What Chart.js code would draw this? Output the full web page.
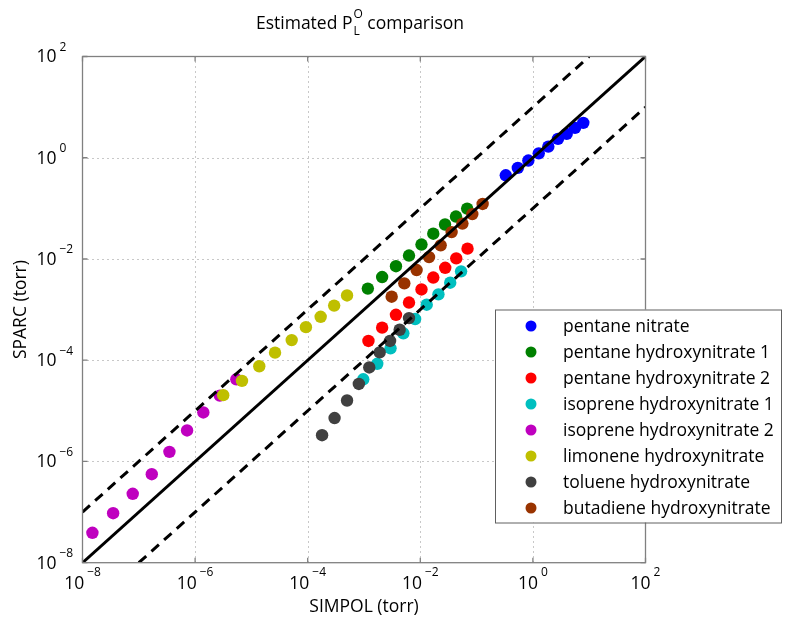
<!DOCTYPE html>
<html>
<head>
<meta charset="utf-8">
<script src="https://cdn.jsdelivr.net/npm/chart.js@4.4.1/dist/chart.umd.min.js"></script>
<style>
  html, body { margin: 0; padding: 0; background: #fff; }
  #wrap { width: 785px; height: 621px; }
</style>
</head>
<body>
<div id="wrap"><canvas id="plChart" width="785" height="621"></canvas></div>
<script>
// SIMPOL (x) vs SPARC (y) estimates, torr
const seriesNames = [
  "pentane nitrate",
  "pentane hydroxynitrate 1",
  "pentane hydroxynitrate 2",
  "isoprene hydroxynitrate 1",
  "isoprene hydroxynitrate 2",
  "limonene hydroxynitrate",
  "toluene hydroxynitrate",
  "butadiene hydroxynitrate",
];
const seriesColors = ["#0000ff", "#008000", "#ff0000", "#00bfbf", "#bf00bf", "#bfbf00", "#404040", "#993300"];

const pentaneNitrateX = [0.33, 0.54, 0.83, 1.27, 1.88, 2.79, 3.98, 5.6, 7.85];
const pentaneNitrateY = [0.45, 0.63, 0.88, 1.22, 1.66, 2.36, 2.96, 3.89, 4.89];

const pentaneHN1X = [1.17e-3, 2.1e-3, 3.7e-3, 6.3e-3, 1.05e-2, 1.7e-2, 2.75e-2, 4.3e-2, 6.8e-2];
const pentaneHN1Y = [2.6e-3, 4.4e-3, 7.2e-3, 1.17e-2, 1.93e-2, 3.16e-2, 4.8e-2, 6.9e-2, 9.9e-2];

const pentaneHN2X = [1.2e-3, 2.1e-3, 3.7e-3, 6.3e-3, 1.05e-2, 1.7e-2, 2.77e-2, 4.35e-2, 6.9e-2];
const pentaneHN2Y = [2.4e-4, 4.4e-4, 7.9e-4, 1.38e-3, 2.5e-3, 4.3e-3, 6.7e-3, 1.03e-2, 1.6e-2];

const isopreneHN1X = [9.7e-4, 1.72e-3, 2.96e-3, 5.0e-3, 8.1e-3, 1.3e-2, 2.1e-2, 3.4e-2, 5.3e-2];
const isopreneHN1Y = [4.2e-5, 8.5e-5, 1.72e-4, 3.4e-4, 6.5e-4, 1.25e-3, 2.0e-3, 3.4e-3, 5.7e-3];

const isopreneHN2X = [1.5e-8, 3.5e-8, 7.8e-8, 1.7e-7, 3.5e-7, 7.2e-7, 1.4e-6, 2.75e-6, 5.4e-6];
const isopreneHN2Y = [3.9e-8, 9.5e-8, 2.3e-7, 5.6e-7, 1.55e-6, 4.1e-6, 9.3e-6, 2.0e-5, 4.2e-5];

const limoneneHNX = [3.16e-6, 6.8e-6, 1.38e-5, 2.63e-5, 5.2e-5, 9.3e-5, 1.7e-4, 2.95e-4, 5.0e-4];
const limoneneHNY = [2.04e-5, 3.9e-5, 7.6e-5, 1.41e-4, 2.5e-4, 4.5e-4, 7.2e-4, 1.2e-3, 1.9e-3];

const tolueneHNX = [1.8e-4, 3.0e-4, 5.0e-4, 8.1e-4, 1.24e-3, 1.9e-3, 2.9e-3, 4.3e-3, 6.3e-3];
const tolueneHNY = [3.3e-6, 7.2e-6, 1.6e-5, 3.4e-5, 7.2e-5, 1.43e-4, 2.4e-4, 4.0e-4, 6.8e-4];

const butadieneHNX = [3.1e-3, 5.2e-3, 8.6e-3, 1.43e-2, 2.3e-2, 3.6e-2, 5.6e-2, 8.4e-2, 0.128];
const butadieneHNY = [1.8e-3, 3.3e-3, 6.05e-3, 1.09e-2, 1.86e-2, 3.4e-2, 5.0e-2, 7.7e-2, 0.122];

// 1:1 line and factor-of-10 lines
const oneToOneX = [1e-8, 1e2];
const oneToOneY = [1e-8, 1e2];
const upperX = [1e-8, 1e1];
const upperY = [1e-7, 1e2];
const lowerX = [1e-7, 1e2];
const lowerY = [1e-8, 1e1];

const tickExponents = [-8, -6, -4, -2, 0, 2];

const allX = [pentaneNitrateX, pentaneHN1X, pentaneHN2X, isopreneHN1X, isopreneHN2X, limoneneHNX, tolueneHNX, butadieneHNX];
const allY = [pentaneNitrateY, pentaneHN1Y, pentaneHN2Y, isopreneHN1Y, isopreneHN2Y, limoneneHNY, tolueneHNY, butadieneHNY];

function toPoints(xs, ys) {
  return xs.map((x, i) => ({ x: x, y: ys[i] }));
}

const datasets = [];
seriesNames.forEach((name, i) => {
  datasets.push({
    type: "scatter",
    label: name,
    data: toPoints(allX[i], allY[i]),
    backgroundColor: seriesColors[i],
    borderWidth: 0,
    pointRadius: 6.2,
    pointHoverRadius: 6.2,
    order: 20 - i, // later series on top, like matlab
  });
});
function refLine(xs, ys, dash) {
  return {
    type: "line",
    label: "_ref",
    data: toPoints(xs, ys),
    borderColor: "#000",
    borderWidth: 3,
    borderDash: dash,
    pointRadius: 0,
    fill: false,
    order: 0,
  };
}
datasets.push(refLine(oneToOneX, oneToOneY, []));
datasets.push(refLine(upperX, upperY, [10, 7]));
datasets.push(refLine(lowerX, lowerY, [10, 7]));

const FONT = "'Open Sans', 'Noto Sans', sans-serif";
const TXT = "17.5px " + FONT;
const SMALL = "12px " + FONT;

// draw 10^n labels, grid, box and legend by hand (matlab look)
const matlabAxes = {
  id: "matlabAxes",
  beforeDatasetsDraw(chart) {
    const { ctx, chartArea: a, scales } = chart;
    ctx.save();
    ctx.strokeStyle = "#909090";
    ctx.lineWidth = 1;
    ctx.setLineDash([1, 4]);
    tickExponents.forEach((e) => {
      const v = Math.pow(10, e);
      const px = Math.round(scales.x.getPixelForValue(v)) + 0.5;
      const py = Math.round(scales.y.getPixelForValue(v)) + 0.5;
      if (e > -8 && e < 2) {
        ctx.beginPath(); ctx.moveTo(px, a.top); ctx.lineTo(px, a.bottom); ctx.stroke();
        ctx.beginPath(); ctx.moveTo(a.left, py); ctx.lineTo(a.right, py); ctx.stroke();
      }
    });
    ctx.restore();
  },
  afterDraw(chart) {
    const { ctx, chartArea: a, scales } = chart;
    ctx.save();
    // box
    ctx.strokeStyle = "#808080";
    ctx.lineWidth = 1.3;
    ctx.strokeRect(a.left, a.top, a.right - a.left, a.bottom - a.top);
    // ticks, inward
    ctx.beginPath();
    tickExponents.forEach((e) => {
      const v = Math.pow(10, e);
      const px = scales.x.getPixelForValue(v);
      const py = scales.y.getPixelForValue(v);
      ctx.moveTo(px, a.bottom); ctx.lineTo(px, a.bottom - 5);
      ctx.moveTo(px, a.top); ctx.lineTo(px, a.top + 5);
      ctx.moveTo(a.left, py); ctx.lineTo(a.left + 5, py);
      ctx.moveTo(a.right, py); ctx.lineTo(a.right - 5, py);
    });
    ctx.stroke();

    // tick labels
    ctx.fillStyle = "#000";
    ctx.textBaseline = "middle";
    tickExponents.forEach((e) => {
      const v = Math.pow(10, e);
      const expStr = e < 0 ? "\u2212" + Math.abs(e) : String(e);
      // x axis
      ctx.font = TXT;
      const wb = ctx.measureText("10").width;
      ctx.font = SMALL;
      const we = ctx.measureText(expStr).width;
      const px = scales.x.getPixelForValue(v);
      const start = px - (wb + 3 + we) / 2;
      ctx.textAlign = "left";
      ctx.font = TXT;
      ctx.fillText("10", start, a.bottom + 21);
      ctx.font = SMALL;
      ctx.fillText(expStr, start + wb + 3, a.bottom + 10);
      // y axis
      const py = scales.y.getPixelForValue(v);
      ctx.font = TXT;
      ctx.textAlign = "right";
      ctx.fillText("10", a.left - 26, py + 1);
      ctx.font = SMALL;
      ctx.textAlign = "left";
      ctx.fillText(expStr, a.left - 23, py - 9);
    });

    // axis titles
    ctx.font = TXT;
    ctx.textAlign = "center";
    ctx.fillText("SIMPOL (torr)", (a.left + a.right) / 2, a.bottom + 44);
    ctx.save();
    ctx.translate(21, (a.top + a.bottom) / 2);
    ctx.rotate(-Math.PI / 2);
    ctx.fillText("SPARC (torr)", 0, 0);
    ctx.restore();

    // title with P_L^O
    const t1 = "Estimated P", t2 = " comparison";
    ctx.font = TXT;
    const w1 = ctx.measureText(t1).width, w2 = ctx.measureText(t2).width;
    ctx.font = SMALL;
    const wl = ctx.measureText("L").width, wo = ctx.measureText("O").width;
    const tw = w1 + 1 + Math.max(wl, wo) + w2;
    let tx = (a.left + a.right) / 2 - 4 - tw / 2;
    ctx.textAlign = "left";
    ctx.font = TXT;
    ctx.fillText(t1, tx, 24);
    ctx.font = SMALL;
    ctx.fillText("L", tx + w1 + 1, 32);
    ctx.fillText("O", tx + w1 + 1, 15);
    ctx.font = TXT;
    ctx.fillText(t2, tx + w1 + 1 + Math.max(wl, wo), 24);

    // legend
    const lx = 495, ly = 309.5, lw = 286, lh = 213;
    ctx.fillStyle = "#fff";
    ctx.fillRect(lx, ly, lw, lh);
    ctx.strokeStyle = "#606060";
    ctx.lineWidth = 1;
    ctx.strokeRect(lx + 0.5, ly + 0.5, lw, lh);
    seriesNames.forEach((name, i) => {
      const ry = ly + 16.5 + i * 26;
      ctx.fillStyle = seriesColors[i];
      ctx.beginPath();
      ctx.arc(lx + 36, ry, 5.5, 0, Math.PI * 2);
      ctx.fill();
      ctx.fillStyle = "#000";
      ctx.font = TXT;
      ctx.textAlign = "left";
      ctx.fillText(name, lx + 68, ry + 1);
    });
    ctx.restore();
  },
};

const plChart = new Chart(document.getElementById("plChart"), {
  type: "scatter",
  data: { datasets: datasets },
  options: {
    responsive: false,
    animation: false,
    layout: { padding: { left: 82.5, right: 139.5, top: 56.5, bottom: 58.3 } },
    scales: {
      x: { type: "logarithmic", min: 1e-8, max: 1e2, display: false },
      y: { type: "logarithmic", min: 1e-8, max: 1e2, display: false },
    },
    plugins: {
      legend: { display: false },
      tooltip: { enabled: false },
    },
  },
  plugins: [matlabAxes],
});
</script>
</body>
</html>
